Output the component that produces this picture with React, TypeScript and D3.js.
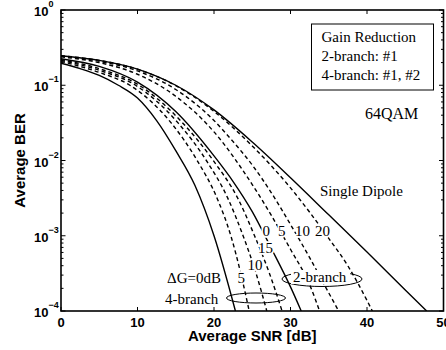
import React from "react";
import * as d3 from "d3";

// ---- data ----
const SNR_SINGLE = [0, 5, 10, 15, 20, 25, 30, 35, 40, 45, 47.8];
const BER_SINGLE = [0.247, 0.214, 0.164, 0.1, 0.047, 0.0176, 0.0059, 0.0019, 0.00061, 0.00019, 0.0001];

const SNR_2B_0 = [0, 5, 10, 15, 20, 22.5, 25, 27.5, 30, 31.4];
const BER_2B_0 = [0.225, 0.178, 0.11, 0.0447, 0.0115, 0.00525, 0.00209, 0.000676, 0.000209, 0.0001];

const SNR_2B_5 = [0, 5, 10, 15, 20, 25, 27.5, 30, 32.5, 33.8];
const BER_2B_5 = [0.238, 0.2, 0.14, 0.0713, 0.024, 0.00479, 0.00186, 0.000661, 0.000224, 0.0001];

const SNR_2B_10 = [0, 5, 10, 15, 20, 22.5, 25, 27.5, 30, 32.5, 35, 36.3];
const BER_2B_10 = [0.244, 0.208, 0.155, 0.0879, 0.034, 0.0178, 0.00871, 0.00372, 0.00141, 0.000513, 0.000174, 0.0001];

const SNR_2B_20 = [0, 5, 10, 15, 20, 25, 30, 35, 37.5, 40, 40.7];
const BER_2B_20 = [0.247, 0.214, 0.163, 0.0989, 0.0449, 0.0156, 0.00433, 0.000923, 0.000398, 0.000138, 0.0001];

const SNR_4B_0 = [0, 2.5, 5, 7.5, 10, 12.5, 15, 17.5, 20, 22.8];
const BER_4B_0 = [0.196, 0.166, 0.135, 0.1, 0.0676, 0.0339, 0.0135, 0.00468, 0.001, 0.0001];

const SNR_4B_5 = [0, 5, 9.0, 14.4, 17.8, 20.4, 22.2, 23.5, 24.6];
const BER_4B_5 = [0.207, 0.148, 0.1, 0.0316, 0.01, 0.00316, 0.001, 0.000316, 0.0001];

const SNR_4B_10 = [0, 5, 9.75, 15.3, 19.0, 21.8, 23.8, 25.5, 26.9];
const BER_4B_10 = [0.214, 0.158, 0.1, 0.0316, 0.01, 0.00316, 0.001, 0.000316, 0.0001];

const SNR_4B_15 = [0, 5, 10.2, 15.9, 19.9, 23.1, 25.3, 27.25, 28.9];
const BER_4B_15 = [0.219, 0.166, 0.1, 0.0316, 0.01, 0.00316, 0.001, 0.000316, 0.0001];

const X_TICKS = [0, 10, 20, 30, 40, 50];
const Y_EXPONENTS = [0, -1, -2, -3, -4];

const SERIES = [
  { snr: SNR_SINGLE, ber: BER_SINGLE, dashed: false },
  { snr: SNR_2B_0, ber: BER_2B_0, dashed: false },
  { snr: SNR_2B_5, ber: BER_2B_5, dashed: true },
  { snr: SNR_2B_10, ber: BER_2B_10, dashed: true },
  { snr: SNR_2B_20, ber: BER_2B_20, dashed: true },
  { snr: SNR_4B_0, ber: BER_4B_0, dashed: false },
  { snr: SNR_4B_5, ber: BER_4B_5, dashed: true },
  { snr: SNR_4B_10, ber: BER_4B_10, dashed: true },
  { snr: SNR_4B_15, ber: BER_4B_15, dashed: true },
];

const SANS = "'Liberation Sans', Arial, Helvetica, sans-serif";
const SERIF = "'Liberation Serif', 'Times New Roman', Times, serif";

const W = 446;
const H = 350;
const L = 61, R = 443.5, T = 10, B = 311;

function Label({ x, y, text, size = 15 }: { x: number; y: number; text: string; size?: number }) {
  return (
    <text
      x={x}
      y={y}
      fontFamily={SERIF}
      fontSize={size}
      fill="#000"
      stroke="#fff"
      strokeWidth={3.5}
      paintOrder="stroke"
      strokeLinejoin="round"
    >
      {text}
    </text>
  );
}

export default function App() {
  const x = d3.scaleLinear().domain([0, 50]).range([L, R]);
  const y = d3.scaleLog().domain([1e-4, 1]).range([B, T]);
  const line = d3
    .line<[number, number]>()
    .x((d) => x(d[0]))
    .y((d) => y(d[1]))
    .curve(d3.curveMonotoneX);

  const minor: number[] = [];
  for (let e = -4; e < 0; e++) for (let k = 2; k <= 9; k++) minor.push(k * Math.pow(10, e));

  return (
    <svg
      width={W}
      height={H}
      style={{ position: "absolute", left: 0, top: 0, background: "#fff" }}
    >
      <defs>
        <clipPath id="plot">
          <rect x={L} y={T} width={R - L} height={B - T} />
        </clipPath>
      </defs>
      <rect x={0} y={0} width={W} height={H} fill="#fff" />

      <g clipPath="url(#plot)">
        {SERIES.map((s, i) => (
          <path
            key={i}
            d={line(s.snr.map((v, j) => [v, s.ber[j]] as [number, number])) || ""}
            fill="none"
            stroke="#000"
            strokeWidth={1.4}
            strokeDasharray={s.dashed ? "4,3" : undefined}
          />
        ))}
      </g>

      {/* ellipses */}
      <ellipse cx={322} cy={279} rx={40} ry={7.5} fill="none" stroke="#000" strokeWidth={1} />
      <ellipse cx={256} cy={298} rx={29.5} ry={5} fill="none" stroke="#000" strokeWidth={1} />

      {/* frame */}
      <rect x={L} y={T} width={R - L} height={B - T} fill="none" stroke="#000" strokeWidth={1.6} />

      {/* x ticks */}
      {X_TICKS.map((t) => (
        <g key={"xt" + t}>
          <line x1={x(t)} x2={x(t)} y1={B} y2={B - 4} stroke="#000" strokeWidth={1} />
          <line x1={x(t)} x2={x(t)} y1={T} y2={T + 4} stroke="#000" strokeWidth={1} />
          <text
            x={x(t)}
            y={327}
            textAnchor="middle"
            fontFamily={SANS}
            fontWeight="bold"
            fontSize={13}
          >
            {t}
          </text>
        </g>
      ))}

      {/* y ticks */}
      {Y_EXPONENTS.map((e) => {
        const yy = y(Math.pow(10, e));
        return (
          <g key={"yt" + e}>
            <line x1={L} x2={L + 4.5} y1={yy} y2={yy} stroke="#000" strokeWidth={1} />
            <line x1={R} x2={R - 4.5} y1={yy} y2={yy} stroke="#000" strokeWidth={1} />
            <text x={34} y={yy + 6} fontFamily={SANS} fontWeight="bold" fontSize={13}>
              10
              <tspan dy={-9} fontSize={9}>
                {e === 0 ? "0" : "\u2212" + -e}
              </tspan>
            </text>
          </g>
        );
      })}
      {minor.map((v, i) => (
        <g key={"mt" + i}>
          <line x1={L} x2={L + 2.5} y1={y(v)} y2={y(v)} stroke="#000" strokeWidth={1} />
          <line x1={R} x2={R - 2.5} y1={y(v)} y2={y(v)} stroke="#000" strokeWidth={1} />
        </g>
      ))}

      {/* axis labels */}
      <text
        x={(L + R) / 2}
        y={341}
        textAnchor="middle"
        fontFamily={SANS}
        fontWeight="bold"
        fontSize={15}
      >
        Average SNR [dB]
      </text>
      <text
        transform={`translate(24.5,${(T + B) / 2}) rotate(-90)`}
        textAnchor="middle"
        fontFamily={SANS}
        fontWeight="bold"
        fontSize={15}
      >
        Average BER
      </text>

      {/* curve labels */}
      <Label x={320} y={196} text="Single Dipole" />
      <Label x={262.5} y={236} text="0" />
      <Label x={278} y={236} text="5" />
      <Label x={295} y={236} text="10" />
      <Label x={315} y={236} text="20" />
      <Label x={258} y={253} text="15" />
      <Label x={247.5} y={269.5} text="10" />
      <Label x={237.5} y={283} text="5" />
      <Label x={167} y={283} text={"\u0394G=0dB"} />
      <Label x={165} y={303.5} text="4-branch" />
      <rect x={291} y={270} width={59} height={14} fill="#fff" />
      <text x={293} y={282} fontFamily={SERIF} fontSize={15}>
        2-branch
      </text>

      {/* legend box */}
      <rect x={311.5} y={24} width={122} height={66} fill="#fff" stroke="#000" strokeWidth={1} />
      <text x={321.5} y={42} fontFamily={SERIF} fontSize={15}>
        Gain Reduction
      </text>
      <text x={321.5} y={61} fontFamily={SERIF} fontSize={15}>
        2-branch: #1
      </text>
      <text x={321.5} y={79.5} fontFamily={SERIF} fontSize={15}>
        4-branch: #1, #2
      </text>

      <text x={365} y={119} fontFamily={SERIF} fontSize={16}>
        64QAM
      </text>
    </svg>
  );
}
